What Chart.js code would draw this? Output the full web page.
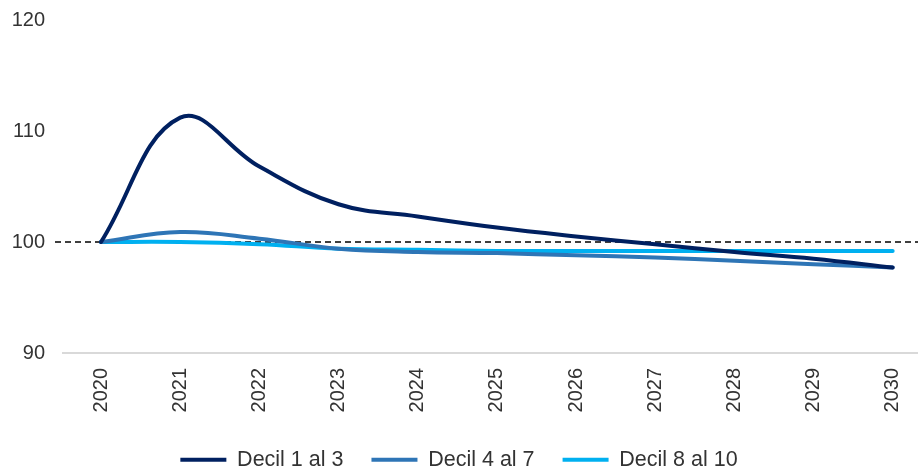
<!DOCTYPE html>
<html>
<head>
<meta charset="utf-8">
<script src="https://cdn.jsdelivr.net/npm/chart.js@4.4.1/dist/chart.umd.min.js"></script>
<style>
    html, body { margin: 0; padding: 0; background: #fff; }
    #wrap { width: 918px; height: 469px; }
</style>
</head>
<body>
<div id="wrap"><canvas id="chart" width="918" height="469"></canvas></div>
<script>
const years = [2020, 2021, 2022, 2023, 2024, 2025, 2026, 2027, 2028, 2029, 2030];
const decil1al3 = [100, 111.2, 106.8, 103.4, 102.3, 101.3, 100.5, 99.8, 99.1, 98.5, 97.7];
const decil4al7 = [100, 100.9, 100.3, 99.4, 99.1, 99.0, 98.8, 98.6, 98.3, 98.0, 97.7];
const decil8al10 = [100, 100.0, 99.8, 99.4, 99.3, 99.2, 99.2, 99.2, 99.2, 99.2, 99.2];
const yTicks = [90, 100, 110, 120];
const baseline = 100;

const textColor = '#333333';
const font = { family: '"Liberation Sans", Arial, sans-serif', size: 20 };
const legendFont = { family: '"Liberation Sans", Arial, sans-serif', size: 21.5 };

function points(values) {
    return years.map((year, i) => ({ x: year, y: values[i] }));
}

function line(label, values, color) {
    return {
        label,
        data: points(values),
        borderColor: color,
        backgroundColor: color,
        borderWidth: 4,
        borderCapStyle: 'round',
        pointRadius: 0,
        tension: 0.4,
        fill: false
    };
}

// dashed reference line at 100, drawn under the series
const baselinePlugin = {
    id: 'baseline',
    beforeUpdate(chart) {
        // keep the legend box short so it sits at the bottom edge
        const legend = chart.legend;
        if (legend && !legend._patched) {
            const fit = legend.fit.bind(legend);
            legend.fit = function () { fit(); this.height = 48; };
            legend._patched = true;
        }
    },
    beforeDatasetsDraw(chart) {
        const { ctx, scales: { y } } = chart;
        const py = y.getPixelForValue(baseline);
        ctx.save();
        ctx.strokeStyle = '#000';
        ctx.lineWidth = 1.5;
        ctx.setLineDash([6, 4]);
        ctx.beginPath();
        ctx.moveTo(55, py);
        ctx.lineTo(chart.width, py);
        ctx.stroke();
        ctx.restore();
    }
};

new Chart(document.getElementById('chart').getContext('2d'), {
    type: 'line',
    data: {
        datasets: [
            line('Decil 1 al 3', decil1al3, '#002060'),
            line('Decil 4 al 7', decil4al7, '#2e75b6'),
            line('Decil 8 al 10', decil8al10, '#00b0f0')
        ]
    },
    options: {
        responsive: false,
        animation: false,
        layout: { padding: { top: 20, left: 0, right: 0, bottom: 0 } },
        scales: {
            x: {
                type: 'linear',
                min: 2019.52,
                max: 2030.32,
                grid: { display: false, drawTicks: false },
                border: { display: true, color: '#d9d9d9', width: 2 },
                afterBuildTicks: scale => { scale.ticks = years.map(v => ({ value: v })); },
                afterFit: scale => {
                    scale.height = 68;
                    scale.paddingLeft = 0;
                    scale.paddingRight = 0;
                },
                ticks: {
                    color: textColor,
                    font,
                    padding: 15,
                    minRotation: 90,
                    maxRotation: 90,
                    autoSkip: false,
                    callback: v => String(v)
                }
            },
            y: {
                min: 90,
                max: 120,
                grid: { display: false, drawTicks: false },
                border: { display: false },
                afterBuildTicks: scale => { scale.ticks = yTicks.map(v => ({ value: v })); },
                afterFit: scale => {
                    scale.width = 63;
                    scale.paddingTop = 0;
                    scale.paddingBottom = 0;
                },
                ticks: { color: textColor, font, padding: 18 }
            }
        },
        plugins: {
            tooltip: { enabled: false },
            legend: {
                position: 'bottom',
                labels: {
                    color: textColor,
                    font: legendFont,
                    boxWidth: 46,
                    boxHeight: 4,
                    padding: 28,
                    generateLabels: chart => Chart.defaults.plugins.legend.labels.generateLabels(chart)
                        .map(item => ({ ...item, lineWidth: 0 }))
                }
            }
        }
    },
    plugins: [baselinePlugin]
});
</script>
</body>
</html>
